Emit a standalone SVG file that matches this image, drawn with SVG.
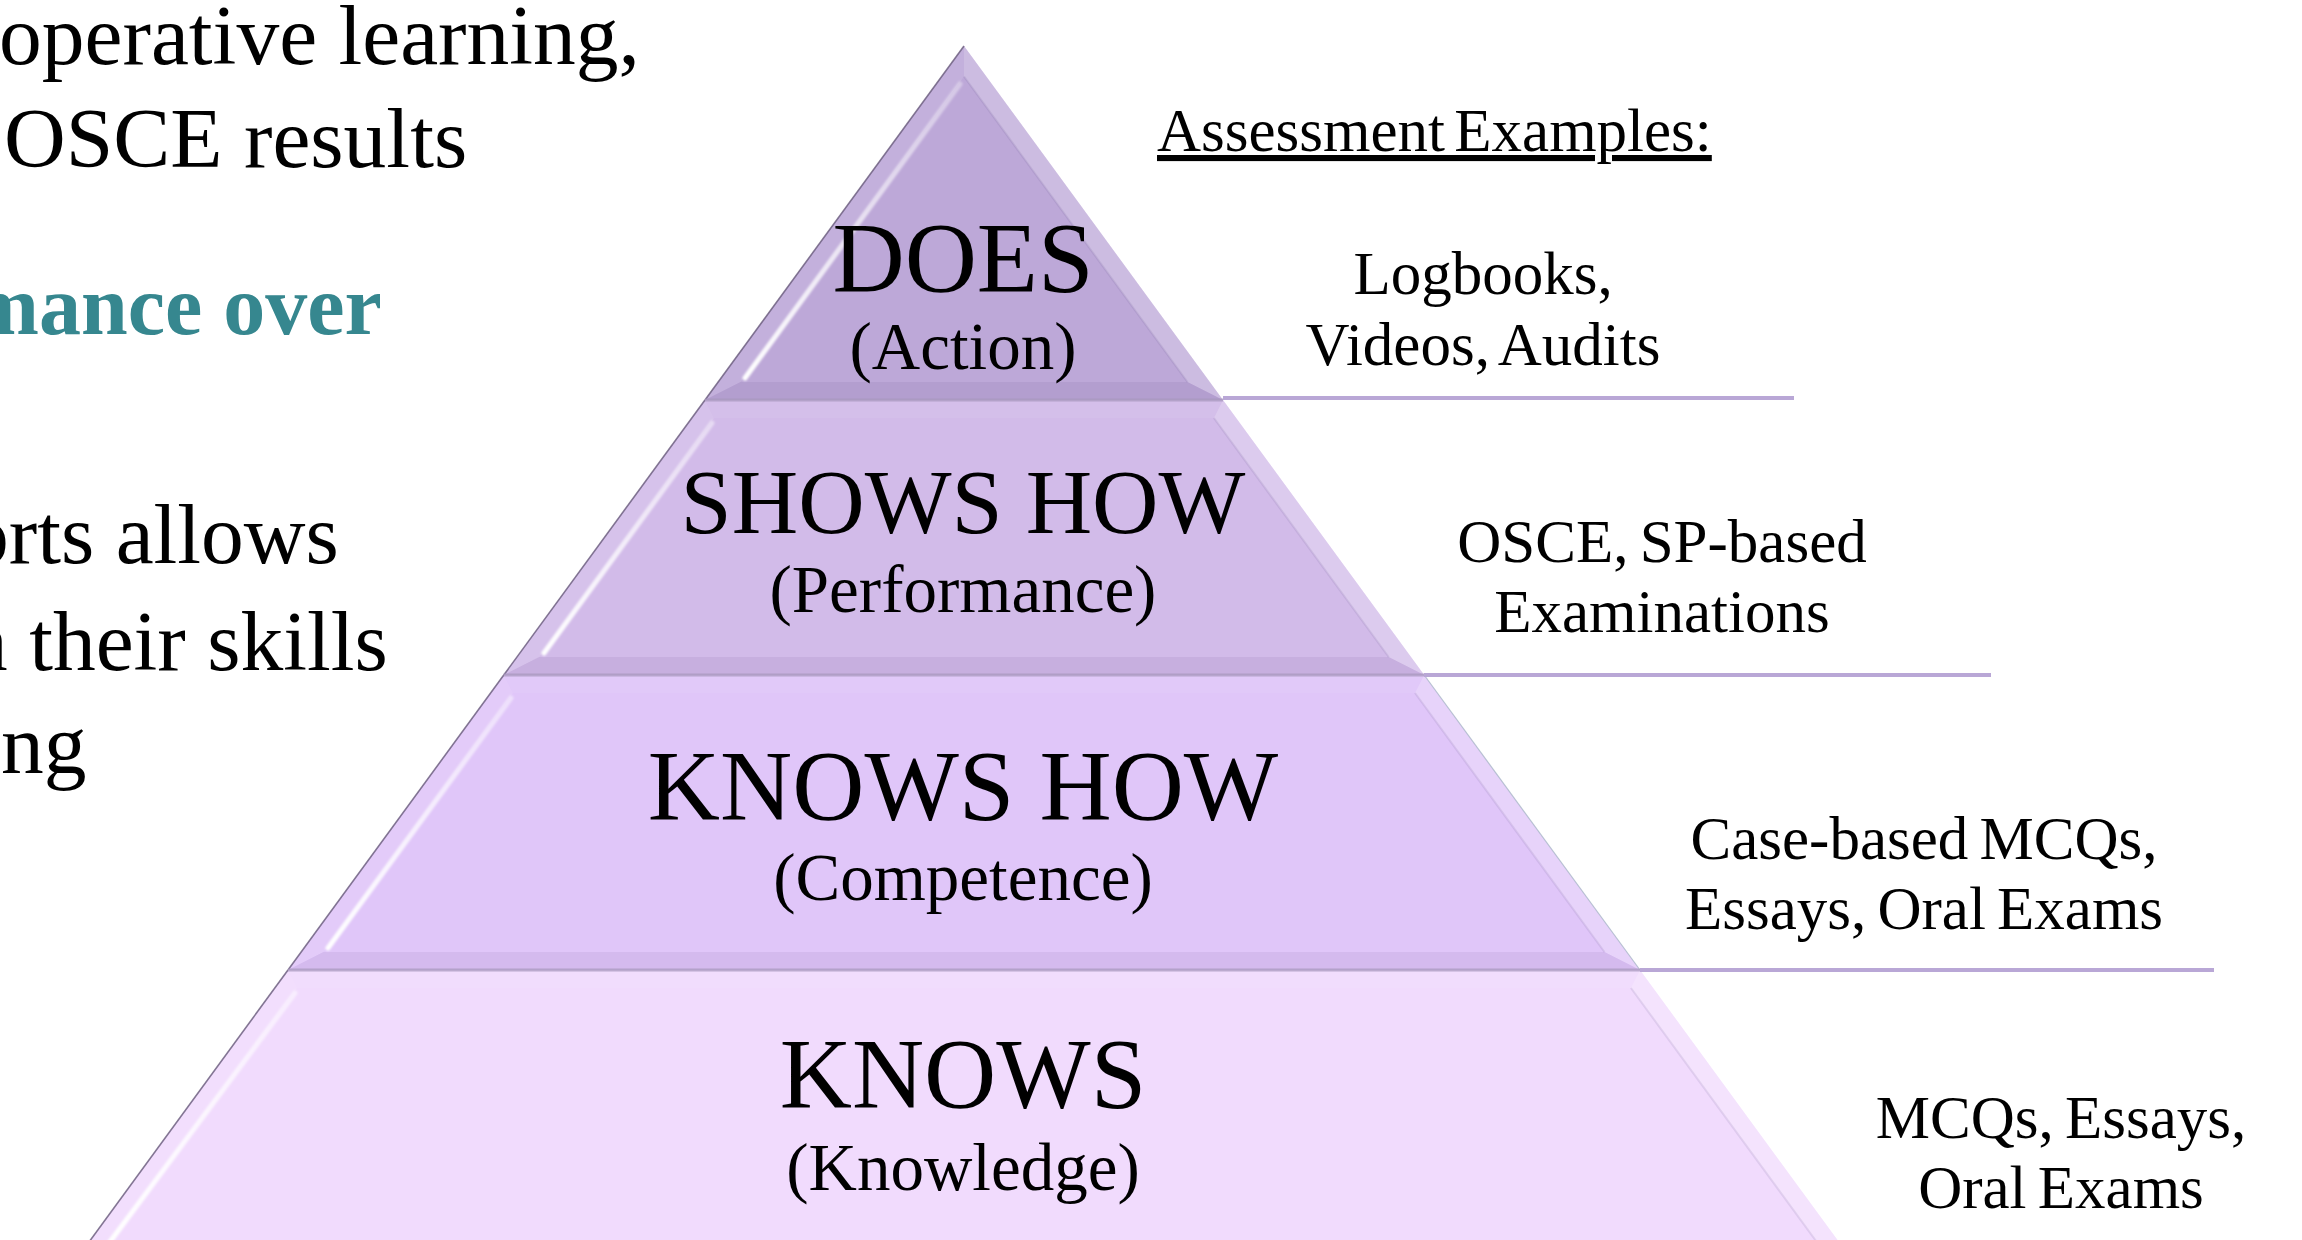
<svg xmlns="http://www.w3.org/2000/svg" width="2302" height="1240" viewBox="0 0 2302 1240">
  <defs>
    <style>
      .serif { font-family: "Liberation Serif", "Times New Roman", serif; fill: #000; }
      .note { font-size: 85.5px; }
      .note-em { font-size: 84px; font-weight: bold; fill: #36878f; }
      .title { font-size: 100px; text-anchor: middle; }
      .sub { font-size: 67px; text-anchor: middle; }
      .ex { font-size: 61px; text-anchor: middle; word-spacing: -4px; }
      .ex-head { font-size: 61px; word-spacing: -6px; text-decoration: underline; }
      .band-l { fill: #ffffff; fill-opacity: 0.10; }
      .band-r { fill: #ffffff; fill-opacity: 0.24; }
      .band-t { fill: #ffffff; fill-opacity: 0.06; }
      .band-b { fill: #3a2060; fill-opacity: 0.07; }
      .inner-r { fill: none; stroke: #5a4680; stroke-opacity: 0.12; stroke-width: 2; }
      .glint { fill: none; stroke-width: 5; stroke-linecap: round; filter: url(#soft); }
      .rim { fill: none; stroke: #6d5f80; stroke-width: 1.6; stroke-opacity: 0.85; }
      .seam { stroke: #a898be; stroke-width: 3; stroke-opacity: 0.75; }
      .leader { stroke: #b9a7d6; stroke-width: 4; fill: none; }
    </style>
    <filter id="soft" x="-10%" y="-10%" width="120%" height="120%">
      <feGaussianBlur stdDeviation="1.2"/>
    </filter>
    <!-- highlight along the inner left bevel edge, brightest at the bottom -->
    <linearGradient id="glintDoes" gradientUnits="userSpaceOnUse" x1="0" y1="382" x2="0" y2="76">
      <stop offset="0" stop-color="#ffffff" stop-opacity="1"/>
      <stop offset="1" stop-color="#ffffff" stop-opacity="0.35"/>
    </linearGradient>
    <linearGradient id="glintShows" gradientUnits="userSpaceOnUse" x1="0" y1="657" x2="0" y2="418">
      <stop offset="0" stop-color="#ffffff" stop-opacity="1"/>
      <stop offset="1" stop-color="#ffffff" stop-opacity="0.45"/>
    </linearGradient>
    <linearGradient id="glintKnowsHow" gradientUnits="userSpaceOnUse" x1="0" y1="952" x2="0" y2="693">
      <stop offset="0" stop-color="#ffffff" stop-opacity="1"/>
      <stop offset="1" stop-color="#ffffff" stop-opacity="0.45"/>
    </linearGradient>
    <linearGradient id="glintKnows" gradientUnits="userSpaceOnUse" x1="0" y1="1240" x2="0" y2="988">
      <stop offset="0" stop-color="#ffffff" stop-opacity="1"/>
      <stop offset="1" stop-color="#ffffff" stop-opacity="0.5"/>
    </linearGradient>
  </defs>

  <rect width="2302" height="1240" fill="#ffffff"/>

  <!-- slide body text at the left, clipped by the canvas edge -->
  <g id="notes" class="serif">
    <text class="note" x="-1" y="64">operative learning,</text>
    <text class="note" x="4" y="167">OSCE results</text>
    <text class="note-em" x="-31" y="334">mance over</text>
    <text class="note" x="-34" y="563">orts allows</text>
    <text class="note" x="-35" y="670">n their skills</text>
    <text class="note" x="1" y="773">ng</text>
  </g>

  <!-- pyramid levels, top to bottom -->
  <g id="does">
    <polygon points="964,46 1223,400 705,400" fill="#bda8d8"/>
    <polygon class="band-l" points="964,46 964,76.5 740.5,382 705,400"/>
    <polygon class="band-r" points="964,46 1223,400 1187.5,382 964,76.5"/>
    <polygon class="band-b" points="705,400 740.5,382 1187.5,382 1223,400"/>
    <polyline class="inner-r" points="964,76.5 1187.5,382"/>
    <line class="glint" x1="745" y1="378" x2="960" y2="84" stroke="url(#glintDoes)"/>
    <line class="rim" x1="964" y1="46" x2="705" y2="400"/>
    <text class="serif title" x="963" y="291">DOES</text>
    <text class="serif sub" x="963" y="369">(Action)</text>
  </g>

  <g id="shows-how">
    <polygon points="705,400 1223,400 1424.2,675 503.8,675" fill="#d2bbe9"/>
    <polygon class="band-t" points="705,400 1223,400 1213.9,418 714.1,418"/>
    <polygon class="band-l" points="705,400 714.1,418 539.3,657 503.8,675"/>
    <polygon class="band-r" points="1223,400 1424.2,675 1388.7,657 1213.9,418"/>
    <polygon class="band-b" points="503.8,675 539.3,657 1388.7,657 1424.2,675"/>
    <polyline class="inner-r" points="1213.9,418 1388.7,657"/>
    <line class="glint" x1="544" y1="653" x2="712" y2="423" stroke="url(#glintShows)"/>
    <line class="rim" x1="705" y1="400" x2="503.8" y2="675"/>
    <text class="serif title" x="963" y="533" style="font-size:92px">SHOWS HOW</text>
    <text class="serif sub" x="963" y="612">(Performance)</text>
  </g>

  <g id="knows-how">
    <polygon points="503.8,675 1424.2,675 1640,970 288,970" fill="#e0c6f9"/>
    <polygon class="band-t" points="503.8,675 1424.2,675 1415,693 513,693"/>
    <polygon class="band-l" points="503.8,675 513,693 323.5,952 288,970"/>
    <polygon class="band-r" points="1424.2,675 1640,970 1604.5,952 1415,693"/>
    <polygon class="band-b" points="288,970 323.5,952 1604.5,952 1640,970"/>
    <polyline class="inner-r" points="1415,693 1604.5,952"/>
    <line class="glint" x1="328" y1="948" x2="511" y2="698" stroke="url(#glintKnowsHow)"/>
    <line class="rim" x1="503.8" y1="675" x2="288" y2="970"/>
    <line x1="1424.2" y1="675" x2="1640" y2="970" stroke="#9fb0c0" stroke-width="1.2" stroke-opacity="0.7"/>
    <text class="serif title" x="963" y="819">KNOWS HOW</text>
    <text class="serif sub" x="963" y="900">(Competence)</text>
  </g>

  <g id="knows">
    <polygon points="288,970 1640,970 1881.4,1300 46.6,1300" fill="#f1dbfd"/>
    <polygon class="band-t" points="288,970 1640,970 1630.9,988 297.1,988"/>
    <polygon class="band-l" points="288,970 297.1,988 82,1282 46.6,1300"/>
    <polygon class="band-r" points="1640,970 1881.4,1300 1846,1282 1630.9,988"/>
    <polyline class="inner-r" points="1630.9,988 1846,1282"/>
    <line class="glint" x1="95" y1="1262" x2="295" y2="993" stroke="url(#glintKnows)"/>
    <line class="rim" x1="288" y1="970" x2="46.6" y2="1300"/>
    <text class="serif title" x="963" y="1107">KNOWS</text>
    <text class="serif sub" x="963" y="1190">(Knowledge)</text>
  </g>

  <!-- seams between levels and leader lines out to the examples -->
  <g id="connectors">
    <line class="seam" x1="705" y1="400" x2="1223" y2="400"/>
    <line class="seam" x1="503.8" y1="675" x2="1424.2" y2="675"/>
    <line class="seam" x1="288" y1="970" x2="1640" y2="970"/>
    <line class="leader" x1="1223" y1="398" x2="1794" y2="398"/>
    <line class="leader" x1="1424" y1="675" x2="1991" y2="675"/>
    <line class="leader" x1="1640" y1="970" x2="2214" y2="970"/>
  </g>

  <!-- assessment examples for each level -->
  <g id="examples" class="serif">
    <text class="ex-head" x="1157" y="151">Assessment Examples:</text>
    <text class="ex" x="1483" y="294">Logbooks,</text>
    <text class="ex" x="1483" y="365">Videos, Audits</text>
    <text class="ex" x="1662" y="562">OSCE, SP-based</text>
    <text class="ex" x="1662" y="632">Examinations</text>
    <text class="ex" x="1924" y="859">Case-based MCQs,</text>
    <text class="ex" x="1924" y="929">Essays, Oral Exams</text>
    <text class="ex" x="2061" y="1138">MCQs, Essays,</text>
    <text class="ex" x="2061" y="1208">Oral Exams</text>
  </g>
</svg>
